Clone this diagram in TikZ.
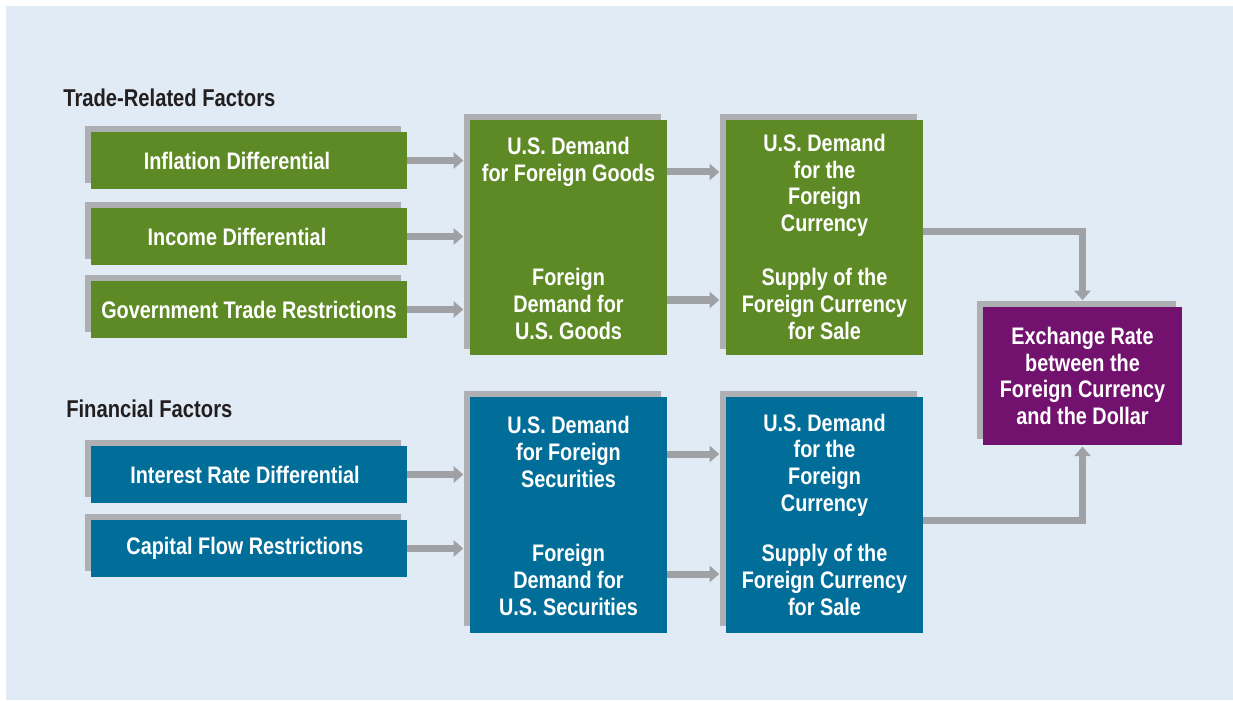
\documentclass[tikz,border=0pt]{standalone}
\usepackage{fontspec}
\newfontfamily\cnd{Liberation Sans}[FakeStretch=0.83]
\usetikzlibrary{arrows.meta,shadows}

\definecolor{bgblue}{HTML}{E1EBF5}
\definecolor{tradegreen}{HTML}{5E8A26}
\definecolor{finblue}{HTML}{006E99}
\definecolor{ratepurple}{HTML}{72126E}
\definecolor{shadowgray}{HTML}{AEAFB3}
\definecolor{arrowgray}{HTML}{A0A1A5}
\definecolor{headgray}{HTML}{231F20}

\tikzset{
  boxtext/.style={text=white, font=\cnd\bfseries\fontsize{17}{18.9}\selectfont, align=center, inner sep=0pt},
  shadowed/.style={inner sep=0pt, general shadow={shadow xshift=-0.16cm, shadow yshift=0.16cm, fill=shadowgray}},
  factorbox/.style={shadowed, boxtext, minimum width=7.9cm, minimum height=1.425cm},
  bigbox/.style={shadowed, minimum width=4.925cm, minimum height=5.875cm},
  ratebox/.style={shadowed, boxtext, minimum width=4.975cm, minimum height=3.45cm},
  heading/.style={anchor=west, inner sep=0pt, text=headgray, font=\cnd\bfseries\fontsize{17.3}{18}\selectfont},
  flow/.style={draw=arrowgray, line width=0.175cm, -{Triangle[width=0.4cm, length=0.24cm]}, shorten >=0.16cm}
}

\begin{document}
\begin{tikzpicture}[x=0.025cm, y=-0.025cm]

% Background
\useasboundingbox (0,0) rectangle (1233,701);
\fill[white] (0,0) rectangle (1233,701);
\fill[bgblue] (6,6) rectangle (1233,700);

% Headings
\node[heading] (tradehead) at (63,98) {Trade-Related Factors};
\node[heading] (finhead) at (66,409) {Financial Factors};

% Trade-related factors
\node[factorbox, fill=tradegreen] (infl) at (249,160.5) {Inflation Differential\hspace*{0.6cm}};
\node[factorbox, fill=tradegreen] (inc) at (249,236.5) {Income Differential\hspace*{0.6cm}};
\node[factorbox, fill=tradegreen] (gov) at (249,309.5) {Government Trade Restrictions};

% Financial factors
\node[factorbox, fill=finblue] (intr) at (249,474.5) {Interest Rate Differential\hspace*{0.2cm}};
\node[factorbox, fill=finblue] (capf) at (249,548.5) {Capital Flow Restrictions\hspace*{0.2cm}};

% Demand for goods and currency (trade)
\node[bigbox, fill=tradegreen] (goods) at (568.5,237.5) {};
\node[boxtext] (usgoods) at (568.5,162) {U.S. Demand\\for Foreign Goods};
\node[boxtext] (fgoods) at (568.5,304) {Foreign\\Demand for\\U.S. Goods};
\node[bigbox, fill=tradegreen] (gcur) at (824.5,237.5) {};
\node[boxtext] (gcurdem) at (824.5,185.5) {U.S. Demand\\for the\\Foreign\\Currency};
\node[boxtext] (gcursup) at (824.5,304) {Supply of the\\Foreign Currency\\for Sale};

% Demand for securities and currency (financial)
\node[bigbox, fill=finblue] (secs) at (568.5,515) {};
\node[boxtext] (ussecs) at (568.5,452) {U.S. Demand\\for Foreign\\Securities};
\node[boxtext] (fsecs) at (568.5,580) {Foreign\\Demand for\\U.S. Securities};
\node[bigbox, fill=finblue] (fcur) at (824.5,515) {};
\node[boxtext] (fcurdem) at (824.5,465) {U.S. Demand\\for the\\Foreign\\Currency};
\node[boxtext] (fcursup) at (824.5,580) {Supply of the\\Foreign Currency\\for Sale};

% Exchange rate
\node[ratebox, fill=ratepurple] (rate) at (1082.5,376) {Exchange Rate\\between the\\Foreign Currency\\and the Dollar};

% Arrows into the first column
\foreach \f in {infl,inc,gov} \draw[flow] (\f.east) -- (\f.east -| goods.west);
\foreach \f in {intr,capf} \draw[flow] (\f.east) -- (\f.east -| secs.west);

% Arrows into the second column
\draw[flow] (goods.east |- 0,172) -- (gcur.west |- 0,172);
\draw[flow] (goods.east |- 0,300) -- (gcur.west |- 0,300);
\draw[flow] (secs.east |- 0,454) -- (fcur.west |- 0,454);
\draw[flow] (secs.east |- 0,574) -- (fcur.west |- 0,574);

% Arrows into the exchange rate
\draw[flow] (gcur.east |- 0,232) -| (rate.north);
\draw[flow, shorten >=0.03cm] (fcur.east |- 0,520) -| (rate.south);

\end{tikzpicture}
\end{document}
